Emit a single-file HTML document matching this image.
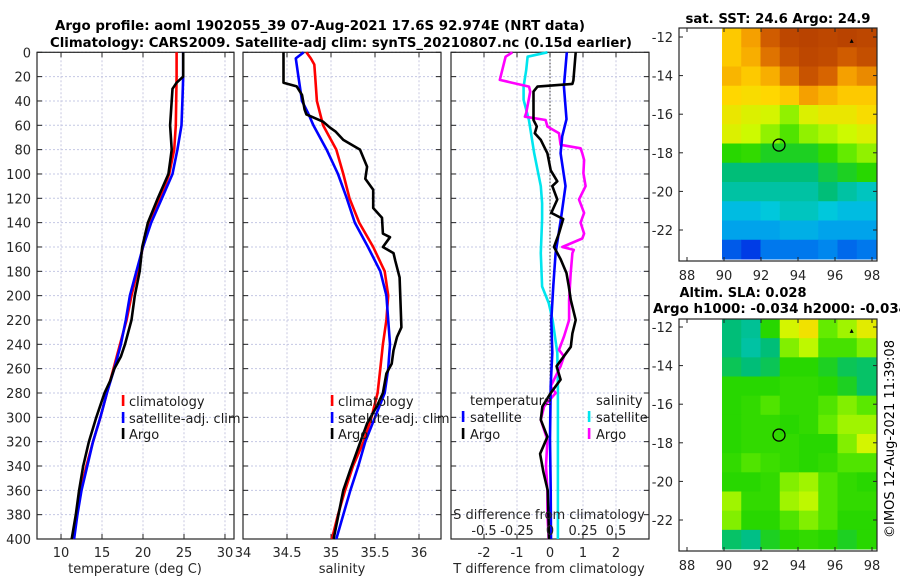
<!DOCTYPE html>
<html><head><meta charset="utf-8">
<style>
html,body{margin:0;padding:0;background:#fff;}
svg{display:block;font-family:"DejaVu Sans","Liberation Sans",sans-serif;}
</style></head>
<body>
<svg id="fig" width="900" height="580" viewBox="0 0 900 580" xmlns="http://www.w3.org/2000/svg">
<text x="320" y="30" text-anchor="middle" font-size="13" font-weight="bold" textLength="530" lengthAdjust="spacingAndGlyphs">Argo profile: aoml 1902055_39 07-Aug-2021 17.6S 92.974E (NRT data)</text>
<text x="341" y="47" text-anchor="middle" font-size="13" font-weight="bold" textLength="582" lengthAdjust="spacingAndGlyphs">Climatology: CARS2009. Satellite-adj clim: synTS_20210807.nc (0.15d earlier)</text>
<text x="778" y="23" text-anchor="middle" font-size="13" font-weight="bold" textLength="185" lengthAdjust="spacingAndGlyphs">sat. SST: 24.6 Argo: 24.9</text>
<text x="743" y="297" text-anchor="middle" font-size="13" font-weight="bold" textLength="127" lengthAdjust="spacingAndGlyphs">Altim. SLA: 0.028</text>
<text x="653" y="313" font-size="13" font-weight="bold" textLength="255" lengthAdjust="spacingAndGlyphs">Argo h1000: -0.034 h2000: -0.034</text>
<text x="0" y="0" transform="translate(894,439) rotate(-90)" text-anchor="middle" font-size="13" textLength="198" lengthAdjust="spacingAndGlyphs">©IMOS 12-Aug-2021 11:39:08</text>
</svg>
<script>
// ---------- DATA ----------
const tClimDepth=[0,20,40,60,80,100,120,140,160,180,200,220,240,260,280,300,320,340,360,380,400];
const tClimVals=[24.1,24.1,24.05,24.0,23.8,23.2,22.1,20.9,20.0,19.3,18.6,18.0,17.2,16.4,15.6,14.8,13.9,13.1,12.4,11.9,11.4];
const tSatDepth=[0,20,40,60,80,100,120,140,160,180,200,220,240,260,280,300,320,340,360,380,400];
const tSatVals=[24.9,24.9,24.8,24.7,24.2,23.6,22.3,21.0,20.0,19.2,18.4,17.9,17.3,16.5,15.6,14.8,13.9,13.2,12.5,12.0,11.6];
const tArgoDepth=[0,20,25,30,40,60,80,90,100,120,140,160,180,200,220,240,250,260,270,280,300,320,340,360,380,400];
const tArgoVals=[24.9,24.9,24.1,23.6,23.5,23.3,23.5,23.3,23.1,21.8,20.6,19.9,19.6,19.0,18.6,17.8,17.3,16.5,16.0,15.3,14.3,13.4,12.7,12.2,11.8,11.3];

const sClimDepth=[0,5,10,20,40,60,80,100,120,140,160,180,200,220,240,260,280,300,320,340,360,380,400];
const sClimVals=[34.72,34.77,34.81,34.82,34.84,34.91,35.06,35.14,35.21,35.32,35.48,35.61,35.65,35.63,35.59,35.56,35.53,35.46,35.37,35.25,35.16,35.08,35.01];
const sSatDepth=[0,5,20,40,50,60,80,100,120,140,160,180,200,220,240,260,280,300,320,340,360,380,400];
const sSatVals=[34.69,34.60,34.63,34.67,34.74,34.80,34.95,35.08,35.18,35.27,35.42,35.56,35.63,35.65,35.67,35.65,35.61,35.50,35.39,35.31,35.22,35.14,35.06];
const sArgoDepth=[0,25,28,35,47,51,57,62,65,72,80,94,104,113,128,136,149,152,160,165,171,185,226,234,245,256,264,280,291,305,321,343,360,382,400];
const sArgoVals=[34.46,34.46,34.61,34.67,34.70,34.72,34.91,34.99,35.05,35.14,35.33,35.41,35.39,35.48,35.48,35.58,35.59,35.67,35.59,35.71,35.73,35.78,35.80,35.75,35.71,35.69,35.63,35.59,35.52,35.41,35.33,35.22,35.14,35.08,35.03];

const dTSatDepth=[0,28,55,69,83,110,137,165,192,220,247,274,318,360,400];
const dTSatVals=[0.51,0.42,0.50,0.37,0.32,0.47,0.33,0.17,0.10,0.04,0.07,0.02,0.0,0.02,0.03];
const dTArgoDepth=[0,23,26,28.2,32.3,55.6,61,66.6,72,83,97,106,110,121,132,137,149,160,170,181.5,192.5,203.5,220,231,242,258,269,280,291,302,316,330,345,360,380,400];
const dTArgoVals=[0.78,0.71,0.68,-0.38,-0.5,-0.5,-0.40,-0.46,-0.28,-0.08,0.02,0.22,0.07,0.22,0.04,0.40,0.27,0.12,0.32,0.50,0.57,0.63,0.78,0.68,0.63,0.20,0.32,0.02,-0.23,-0.28,-0.08,-0.3,-0.2,-0.07,-0.05,-0.03];
const dSSatDepth=[0,3.6,14.6,28.2,39,55.6,83,110,124,137,165,192.5,206,220,247,274.6,318.5,360,400];
const dSSatVals=[-0.02,-0.17,-0.18,-0.20,-0.20,-0.16,-0.12,-0.07,-0.06,-0.06,-0.07,-0.06,-0.01,0.02,0.055,0.06,0.06,0.06,0.06];
const dSArgoDepth=[0,3.6,22.7,28.2,32.3,50,52.9,55.6,61,66.6,76,78.9,83,88.5,99.4,110,121,132,140,149,153,160,162.4,165,181.5,203.5,220,233.6,244.5,250,258,274.6,280,291,302,318.5,340,360,380,400];
const dSArgoVals=[-0.285,-0.336,-0.38,-0.159,-0.15,-0.18,-0.19,-0.033,-0.02,0.068,0.08,0.232,0.245,0.258,0.253,0.27,0.22,0.258,0.232,0.258,0.245,0.093,0.18,0.17,0.157,0.145,0.145,0.106,0.068,0.106,0.08,0.005,0.043,-0.045,-0.07,-0.02,-0.03,-0.02,-0.02,-0.01];

const depthTicks=[0,20,40,60,80,100,120,140,160,180,200,220,240,260,280,300,320,340,360,380,400];
const tempTicks=[10,15,20,25,30];
const salTicks=[34,34.5,35,35.5,36];
const salTickLabels=["34","34.5","35","35.5","36"];
const dTTicks=[-2,-1,0,1,2];
const dSTicks=[-0.5,-0.25,0,0.25,0.5];
const dSTickLabels=["-0.5","-0.25","0","0.25","0.5"];
const latTicks=[-12,-14,-16,-18,-20,-22];
const lonTicks=[88,90,92,94,96,98];

// map grids: rows from lat -12 (north) to -23 (south), cols lon 90..97 (colormap index 0..1)
const sstGrid=[
[0.74,0.80,0.90,0.95,0.96,0.95,0.96,0.95],
[0.74,0.78,0.86,0.92,0.95,0.94,0.90,0.93],
[0.77,0.74,0.78,0.85,0.92,0.88,0.80,0.83],
[0.72,0.71,0.72,0.74,0.80,0.77,0.74,0.74],
[0.69,0.67,0.66,0.61,0.67,0.69,0.69,0.71],
[0.67,0.65,0.61,0.56,0.61,0.63,0.65,0.67],
[0.52,0.53,0.50,0.50,0.50,0.53,0.58,0.61],
[0.45,0.45,0.45,0.45,0.45,0.48,0.50,0.52],
[0.42,0.42,0.42,0.42,0.42,0.45,0.42,0.40],
[0.36,0.36,0.38,0.40,0.40,0.38,0.36,0.36],
[0.32,0.32,0.32,0.34,0.34,0.32,0.32,0.32],
[0.22,0.18,0.26,0.26,0.26,0.28,0.24,0.26]];
const slaGrid=[
[0.45,0.43,0.52,0.66,0.70,0.58,0.62,0.68],
[0.45,0.42,0.45,0.60,0.64,0.55,0.55,0.60],
[0.47,0.45,0.47,0.52,0.52,0.50,0.47,0.46],
[0.52,0.52,0.52,0.53,0.53,0.52,0.50,0.46],
[0.52,0.53,0.56,0.53,0.53,0.56,0.60,0.57],
[0.52,0.53,0.53,0.52,0.53,0.58,0.62,0.62],
[0.52,0.53,0.53,0.53,0.52,0.52,0.60,0.66],
[0.53,0.56,0.54,0.53,0.52,0.53,0.56,0.56],
[0.52,0.52,0.53,0.60,0.62,0.56,0.53,0.52],
[0.62,0.53,0.53,0.62,0.64,0.56,0.53,0.53],
[0.60,0.52,0.52,0.56,0.60,0.56,0.52,0.52],
[0.46,0.44,0.50,0.52,0.53,0.52,0.50,0.52]];

// ---------- RENDER ----------
const NS="http://www.w3.org/2000/svg";
const svg=document.getElementById('fig');
function mk(tag,attrs,parent){const e=document.createElementNS(NS,tag);for(const k in attrs)e.setAttribute(k,attrs[k]);(parent||svg).appendChild(e);return e;}
const Y0=52.3,Y1=539;
function yD(d){return Y0+(Y1-Y0)*d/400;}
const panels=[
 {name:'temperature',x0:37,x1:234,vmin:7.07,vmax:31.1},
 {name:'salinity',x0:243,x1:441,vmin:34.0,vmax:36.25},
 {name:'difference',x0:451,x1:649,vmin:-3,vmax:3}];
function xS(p,v){return p.x0+(p.x1-p.x0)*(v-p.vmin)/(p.vmax-p.vmin);}
const pDS={x0:451,x1:649,vmin:-0.75,vmax:0.75};

panels.forEach((p,i)=>{
  const g=mk('g',{});
  
  
  depthTicks.forEach(d=>{
    const l=mk('line',{x1:p.x0,x2:p.x1,y1:yD(d),y2:yD(d),stroke:'#c4c8e4','stroke-width':1,'stroke-dasharray':'2,2'},g);
    
    
    const t1=mk('line',{x1:p.x0,x2:p.x0+5,y1:yD(d),y2:yD(d),stroke:'#222','stroke-width':1},g);
    
    
    const t2=mk('line',{x1:p.x1-5,x2:p.x1,y1:yD(d),y2:yD(d),stroke:'#222','stroke-width':1},g);
    
    
  });
  const ticks=i===0?tempTicks:(i===1?salTicks:dTTicks);
  ticks.forEach((v,k)=>{
    const x=xS(p,v);
    const l=mk('line',{x1:x,x2:x,y1:Y0,y2:Y1,stroke:'#c8c8e0','stroke-width':1,'stroke-dasharray':'2,2'},g);
    
    
    const tt=mk('line',{x1:x,x2:x,y1:Y0,y2:Y0+5,stroke:'#222'},g);
    
    
    const tb=mk('line',{x1:x,x2:x,y1:Y1-5,y2:Y1,stroke:'#222'},g);
    
    
    const lab=mk('text',{x:x,y:557,'text-anchor':'middle','font-size':13,fill:'#262626'},g);
    lab.textContent=i===1?salTickLabels[k]:String(v);
    
    
  });
  const fr=mk('rect',{x:p.x0,y:Y0,width:p.x1-p.x0,height:Y1-Y0,fill:'none',stroke:'#262626','stroke-width':1.2},g);
  
  
});
depthTicks.forEach(d=>{
  const t=mk('text',{x:31,y:yD(d)+5,'text-anchor':'end','font-size':13,fill:'#262626'});
  t.textContent=String(d);
  
  
});
// zero line in diff panel
const zl=mk('line',{x1:xS(panels[2],0),x2:xS(panels[2],0),y1:Y0,y2:Y1,stroke:'#333','stroke-width':1,'stroke-dasharray':'1.5,2'});



function series(p,depths,vals,color,name){
  const pts=depths.map((d,k)=>xS(p,vals[k]).toFixed(1)+','+yD(d).toFixed(1)).join(' ');
  const pl=mk('polyline',{points:pts,fill:'none',stroke:color,'stroke-width':2.6,'stroke-linejoin':'round'});
  
  
}
series(panels[0],tClimDepth,tClimVals,'#ff0000','temp-climatology-line');
series(panels[0],tSatDepth,tSatVals,'#0000ff','temp-satellite-line');
series(panels[0],tArgoDepth,tArgoVals,'#000000','temp-argo-line');
series(panels[1],sClimDepth,sClimVals,'#ff0000','sal-climatology-line');
series(panels[1],sSatDepth,sSatVals,'#0000ff','sal-satellite-line');
series(panels[1],sArgoDepth,sArgoVals,'#000000','sal-argo-line');
series(pDS,dSSatDepth,dSSatVals,'#00e5ee','sdiff-satellite-line');
series(pDS,dSArgoDepth,dSArgoVals,'#ff00ff','sdiff-argo-line');
series(panels[2],dTSatDepth,dTSatVals,'#0000ff','tdiff-satellite-line');
series(panels[2],dTArgoDepth,dTArgoVals,'#000000','tdiff-argo-line');

// S diff axis inside panel
const sdl=mk('text',{x:549,y:519,'text-anchor':'middle','font-size':13,fill:'#262626'});
sdl.textContent='S difference from climatology';


dSTicks.forEach((v,k)=>{
  const t=mk('text',{x:xS(pDS,v),y:535,'text-anchor':'middle','font-size':13,fill:'#262626'});
  t.textContent=dSTickLabels[k];
  
  
});
// axis titles
[['temperature (deg C)',135,'temperature-axis-title'],['salinity',342,'salinity-axis-title'],['T difference from climatology',549,'t-diff-axis-title']].forEach(a=>{
  const t=mk('text',{x:a[1],y:573,'text-anchor':'middle','font-size':13,fill:'#262626'});
  t.textContent=a[0];
  
  
});
// legends
function legEntry(mx,tx,y,color,label,name){
  const g=mk('g',{});
  
  
  mk('rect',{x:mx-1.2,y:y-11,width:2.6,height:11,fill:color},g);
  const t=mk('text',{x:tx,y:y,'font-size':13,fill:'#1a1a1a'},g);
  t.textContent=label;
}
legEntry(123,129,406,'#ff0000','climatology','legend-entry-climatology');
legEntry(123,129,423,'#0000ff','satellite-adj. clim','legend-entry-satellite-adj');
legEntry(123,129,439,'#000000','Argo','legend-entry-argo');
legEntry(332,338,406,'#ff0000','climatology','legend-entry-climatology');
legEntry(332,338,423,'#0000ff','satellite-adj. clim','legend-entry-satellite-adj');
legEntry(332,338,439,'#000000','Argo','legend-entry-argo');
const lt=mk('text',{x:470,y:405,'font-size':13,fill:'#1a1a1a'});lt.textContent='temperature';


const ls=mk('text',{x:596,y:405,'font-size':13,fill:'#1a1a1a'});ls.textContent='salinity';


legEntry(463,470,422,'#0000ff','satellite','legend-entry-t-satellite');
legEntry(463,470,439,'#000000','Argo','legend-entry-t-argo');
legEntry(589,596,422,'#00e5ee','satellite','legend-entry-s-satellite');
legEntry(589,596,439,'#ff00ff','Argo','legend-entry-s-argo');

// ---------- MAPS ----------
const cstops=[[0,[0,0,140]],[0.18,[0,60,230]],[0.3,[0,150,240]],[0.38,[0,200,220]],[0.45,[0,190,120]],[0.52,[40,215,0]],[0.58,[100,235,0]],[0.65,[205,250,0]],[0.72,[255,215,0]],[0.8,[245,160,0]],[0.88,[215,100,0]],[1,[170,50,0]]];
function cmap(v){for(let i=1;i<cstops.length;i++){if(v<=cstops[i][0]){const a=cstops[i-1],b=cstops[i];const f=(v-a[0])/(b[0]-a[0]);return 'rgb('+a[1].map((c,j)=>Math.round(c+(b[1][j]-c)*f)).join(',')+')';}}return 'rgb(170,50,0)';}
function drawMap(top,bottom,latY12,grid,name){
  const fx0=679,fx1=877;
  const lonX=lon=>687+(lon-88)*18.5;
  const latY=lat=>latY12+(-12-lat)*19.3;
  const g=mk('g',{});
  
  
  const dx0=722,dx1=876,rows=grid.length,cols=grid[0].length;
  const cw=(dx1-dx0)/cols,ch=(bottom-2-top)/rows;
  grid.forEach((row,r)=>row.forEach((v,c)=>{
    const cell=mk('rect',{x:(dx0+c*cw).toFixed(2),y:(top+r*ch).toFixed(2),width:(cw+0.5).toFixed(2),height:(ch+0.5).toFixed(2),fill:cmap(v)},g);
    
    
  }));
  const fr=mk('rect',{x:fx0,y:top,width:fx1-fx0,height:bottom-top,fill:'none',stroke:'#262626','stroke-width':1.2},g);
  
  
  latTicks.forEach(lat=>{
    const y=latY(lat);
    mk('line',{x1:fx0,x2:fx0+4,y1:y,y2:y,stroke:'#222'},g);
    mk('line',{x1:fx1-4,x2:fx1,y1:y,y2:y,stroke:'#222'},g);
    const t=mk('text',{x:673,y:y+5,'text-anchor':'end','font-size':13,fill:'#262626'},g);
    t.textContent=String(lat);
    
    
  });
  lonTicks.forEach(lon=>{
    const x=lonX(lon);
    mk('line',{x1:x,x2:x,y1:bottom-4,y2:bottom,stroke:'#222'},g);
    mk('line',{x1:x,x2:x,y1:top,y2:top+4,stroke:'#222'},g);
    const t=mk('text',{x:x,y:bottom+19,'text-anchor':'middle','font-size':13,fill:'#262626'},g);
    t.textContent=String(lon);
    
    
  });
  const c=mk('circle',{cx:lonX(92.974),cy:latY(-17.6),r:6,fill:'none',stroke:'#000','stroke-width':1.3},g);
  
  
  const tri=mk('path',{d:'M'+(lonX(96.9)-2)+','+(latY(-12.2)+2)+' l2,-4 l2,4 z',fill:'#000'},g);
  
  
}
drawMap(28,261,37,sstGrid,'sst-map');
drawMap(319,551,327,slaGrid,'sla-map');
</script>
</body></html>
